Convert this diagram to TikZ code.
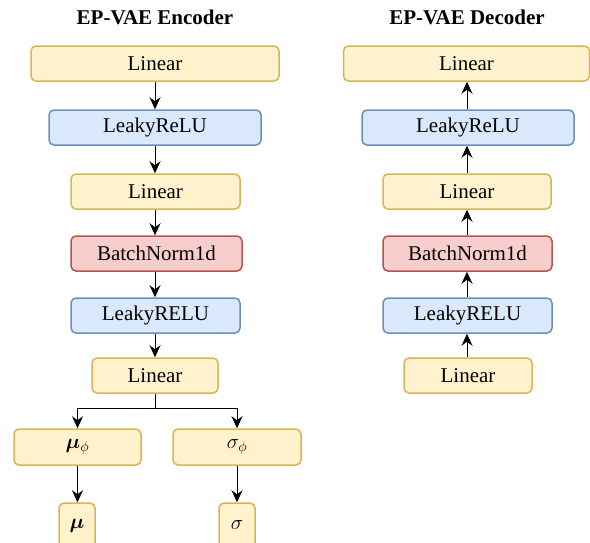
\documentclass[tikz,border=0pt]{standalone}
\usepackage{bm}
\usepackage{fontspec}
\setmainfont{Liberation Serif}
\usetikzlibrary{arrows.meta}
\definecolor{yfill}{HTML}{FFF2CC}\definecolor{ydraw}{HTML}{D6B656}
\definecolor{bfill}{HTML}{DAE8FC}\definecolor{bdraw}{HTML}{6C8EBF}
\definecolor{rfill}{HTML}{F8CECC}\definecolor{rdraw}{HTML}{B85450}
\tikzset{
  box/.style={rounded corners=5pt, line width=1.5pt, minimum height=35pt, inner sep=0pt,
    font=\fontsize{21}{25}\selectfont},
  ybox/.style={box, fill=yfill, draw=ydraw},
  bbox/.style={box, fill=bfill, draw=bdraw},
  rbox/.style={box, fill=rfill, draw=rdraw},
  ttl/.style={font=\fontsize{21}{25}\selectfont\bfseries},
  arr/.style={line width=1pt, -{Stealth[length=12pt,width=11pt,inset=4pt]}},
  ln/.style={line width=1pt}
}
\begin{document}
\begin{tikzpicture}[x=1pt,y=-1pt]
\clip (0,0) rectangle (590,542);
\fill[white] (0,0) rectangle (590,542);
% Encoder
\node[ttl] (te) at (155,17) {EP-VAE Encoder};
\node[ybox, minimum width=248pt] (e1) at (155,63.5) {Linear};
\node[bbox, minimum width=212pt] (e2) at (155,127.5) {LeakyReLU};
\node[ybox, minimum width=169pt] (e3) at (155.5,191.5) {Linear};
\node[rbox, minimum width=171pt] (e4) at (156.5,253.5) {BatchNorm1d};
\node[bbox, minimum width=169pt] (e5) at (155.5,315.5) {LeakyRELU};
\node[ybox, minimum width=126pt] (e6) at (155,375.5) {Linear};
\node[ybox, minimum width=127pt, minimum height=36pt] (mp) at (77.5,447) {$\bm{\mu}_\phi$};
\node[ybox, minimum width=128pt, minimum height=36pt] (sp) at (237,447) {$\sigma_\phi$};
\node[ybox, minimum width=36pt, minimum height=45pt] (mu) at (77,525.5) {$\bm{\mu}$};
\node[ybox, minimum width=36pt, minimum height=45pt] (sg) at (237,525.5) {$\sigma$};
\draw[arr] (e1.south -| e2.north) -- (e2.north);
\draw[arr] (e2.south) -- (e3.north -| e2.south);
\draw[arr] (e3.south -| e2.south) -- (e4.north -| e2.south);
\draw[arr] (e4.south -| e2.south) -- (e5.north -| e2.south);
\draw[arr] (e5.south -| e2.south) -- (e6.north);
\coordinate (br) at (155,408);
\draw[ln] (e6.south) -- (br);
\draw[arr] (br) -| (mp.north);
\draw[arr] (br) -| (sp.north);
\draw[arr] (mp.south) -- (mp.south |- mu.north);
\draw[arr] (sp.south) -- (sp.south |- sg.north);
% Decoder
\node[ttl] (td) at (467,17) {EP-VAE Decoder};
\node[ybox, minimum width=246pt] (d1) at (466.5,63.5) {Linear};
\node[bbox, minimum width=212pt] (d2) at (468,127.5) {LeakyReLU};
\node[ybox, minimum width=168pt] (d3) at (467,191.5) {Linear};
\node[rbox, minimum width=169pt] (d4) at (467.5,253.5) {BatchNorm1d};
\node[bbox, minimum width=169pt] (d5) at (467.5,315.5) {LeakyRELU};
\node[ybox, minimum width=128pt] (d6) at (468,375.5) {Linear};
\coordinate (dx) at (467,0);
\draw[arr] (d6.north -| dx) -- (d5.south -| dx);
\draw[arr] (d5.north -| dx) -- (d4.south -| dx);
\draw[arr] (d4.north -| dx) -- (d3.south -| dx);
\draw[arr] (d3.north -| dx) -- (d2.south -| dx);
\draw[arr] (d2.north -| dx) -- (d1.south -| dx);
\end{tikzpicture}
\end{document}
